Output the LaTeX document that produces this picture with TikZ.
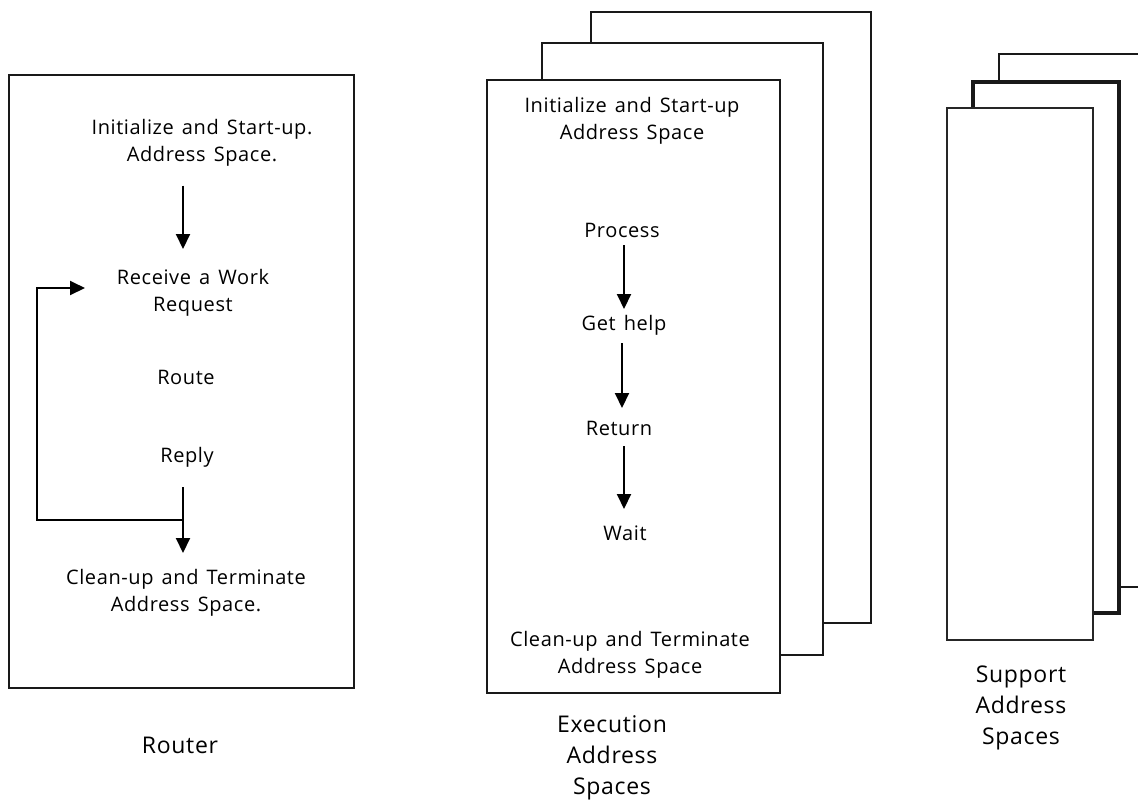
\documentclass[tikz,border=0pt]{standalone}
\usepackage{fontspec}
\setmainfont[LetterSpace=3,WordSpace=1.4]{Open Sans}
\usetikzlibrary{arrows.meta}
\begin{document}
\begin{tikzpicture}[x=1pt,y=-1pt,
  box/.style={draw=black!90,line width=2.4pt,fill=white},
  txt/.style={align=center,inner sep=0pt,font=\fontsize{20}{27}\selectfont},
  lbl/.style={align=center,inner sep=0pt,font=\fontsize{23}{31}\selectfont},
  arr/.style={line width=2pt,-{Triangle[length=15pt,width=14pt]}}]
\useasboundingbox (0,0) rectangle (1138,807);

% ---- Router ----
\draw[box] (9,75) rectangle (354,688);
\node[txt] (rinit)  at (202,143) {Initialize and Start-up.\\Address Space.};
\node[txt] (rrecv)  at (193,293) {Receive a Work\\Request};
\node[txt] (rroute) at (186,377) {Route};
\node[txt] (rreply) at (187,457) {Reply};
\node[txt] (rclean) at (186,593) {Clean-up and Terminate\\Address Space.};
\node[lbl] (router) at (180,745) {Router};
\coordinate (rx) at (183,0);
\coordinate (rj) at (183,520);
\coordinate (rl) at (37,520);
\coordinate (rt) at (85,288);
\draw[arr] (rinit.south -| rx) ++(0,19) -- (183,249);
\draw[arr] (rreply.south -| rx) ++(0,20) -- (183,553);
\draw[arr] (rj) -- (rl) |- (rt);

% ---- Execution address spaces ----
\draw[box] (591,12) rectangle (871,623);
\draw[box] (542,43) rectangle (823,655);
\draw[box] (487,80) rectangle (780,693);
\node[txt] (einit)  at (632,121) {Initialize and Start-up\\Address Space};
\node[txt] (proc)   at (622,230) {Process};
\node[txt] (help)   at (624,325) {Get help};
\node[txt] (ret)    at (619,428) {Return};
\node[txt] (wait)   at (625,533) {Wait};
\node[txt] (eclean) at (630,655) {Clean-up and Terminate\\Address Space};
\node[lbl] (exec)   at (612,758) {Execution\\Address\\Spaces};
\draw[arr] (624,245) -- (624,309);
\draw[arr] (622,343) -- (622,408);
\draw[arr] (624,446) -- (624,509);

% ---- Support address spaces ----
\begin{scope}
  \clip (0,0) rectangle (1138,807);
  \draw[draw=black!90,line width=2pt,fill=white] (999,54) rectangle (1160,587);
\end{scope}
\draw[draw=black!90,line width=4.5pt,fill=white] (973,82) rectangle (1119,613);
\draw[draw=black!85,line width=2pt,fill=white] (947,108) rectangle (1093,640);
\node[lbl] (support) at (1021,708) {Support\\Address\\Spaces};
\end{tikzpicture}
\end{document}
